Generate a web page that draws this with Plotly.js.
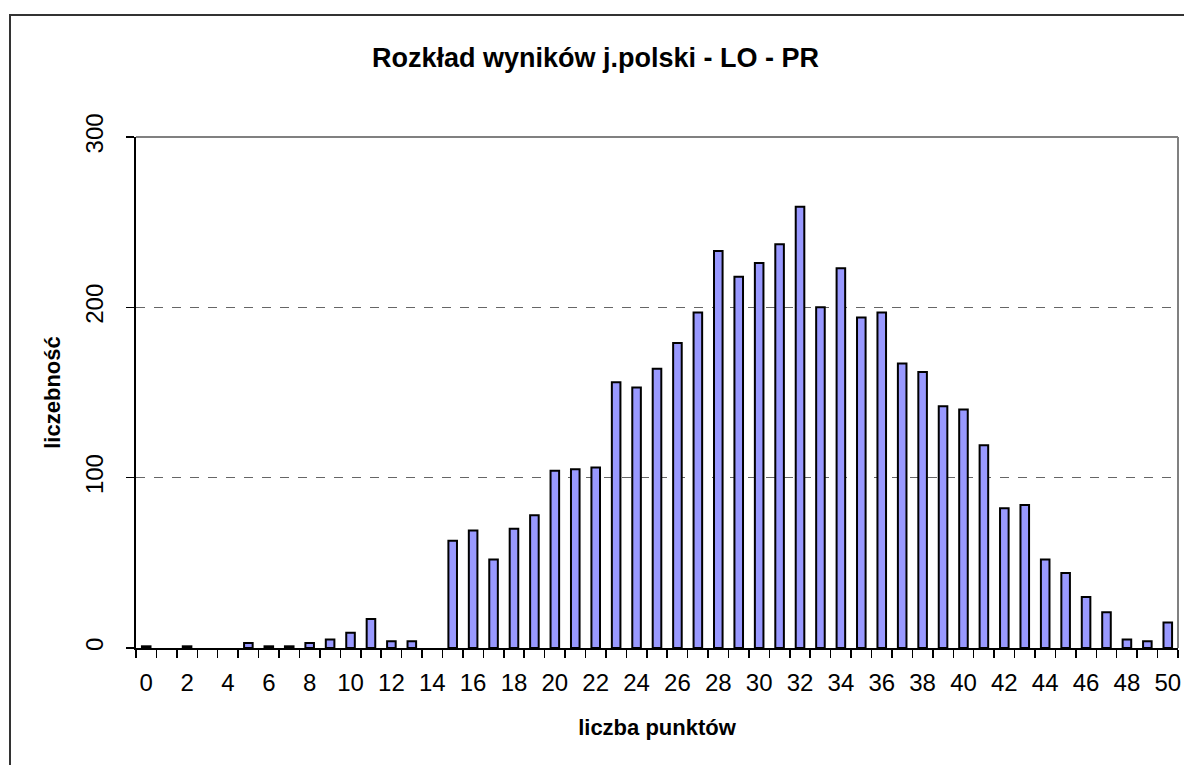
<!DOCTYPE html>
<html>
<head>
<meta charset="utf-8">
<script src="https://cdn.plot.ly/plotly-3.0.1.min.js"></script>
<style>
html,body{margin:0;padding:0;background:#fff;}
#chart{width:1184px;height:765px;}
</style>
</head>
<body>
<div id="chart"></div>
<script>
// liczba punktów (score) and liczebność (count)
const points = [0,1,2,3,4,5,6,7,8,9,10,11,12,13,14,15,16,17,18,19,20,21,22,23,24,25,26,27,28,29,30,31,32,33,34,35,36,37,38,39,40,41,42,43,44,45,46,47,48,49,50];
const counts = [1,0,1,0,0,3,1,1,3,5,9,17,4,4,0,63,69,52,70,78,104,105,106,156,153,164,179,197,233,218,226,237,259,200,223,194,197,167,162,142,140,119,82,84,52,44,30,21,5,4,15];
const xTickVals = [0,2,4,6,8,10,12,14,16,18,20,22,24,26,28,30,32,34,36,38,40,42,44,46,48,50];
const yTickVals = [0,100,200,300];
const titleText = 'Rozkład wyników j.polski - LO - PR';
const xTitle = 'liczba punktów';
const yTitle = 'liczebność';

const FONT = '"Liberation Sans", Arial, sans-serif';

const trace = {
  type: 'bar',
  x: points,
  // zero counts draw no bar (no outline) as in the original
  y: counts.map(v => (v === 0 ? null : v)),
  width: 0.42,
  marker: {color: '#9999FF', line: {color: '#000000', width: 2}},
  hoverinfo: 'x+y'
};

const layout = {
  width: 1184,
  height: 765,
  paper_bgcolor: '#ffffff',
  plot_bgcolor: '#ffffff',
  margin: {l: 136, r: 6, t: 137, b: 117},
  showlegend: false,
  font: {family: FONT, color: '#000000'},
  title: {
    text: '<b>' + titleText + '</b>',
    font: {family: FONT, size: 27, color: '#000000'},
    xref: 'container', x: 0.503, xanchor: 'center',
    yref: 'container', y: 1 - 58/765, yanchor: 'middle'
  },
  xaxis: {
    range: [-0.5, 50.5],
    tickmode: 'array',
    tickvals: xTickVals,
    ticktext: xTickVals.map(String),
    ticks: '',
    tickfont: {family: FONT, size: 24, color: '#000000'},
    ticklabelstandoff: 12,
    showline: true, linecolor: '#000000', linewidth: 2,
    showgrid: false, zeroline: false,
    minor: {tickmode: 'linear', tick0: -0.5, dtick: 1, ticks: 'outside', ticklen: 8, tickwidth: 1.5, tickcolor: '#000000', showgrid: false},
    title: {text: '<b>' + xTitle + '</b>', font: {family: FONT, size: 22, color: '#000000'}, standoff: 25},
    fixedrange: true
  },
  yaxis: {
    range: [0, 300],
    tickmode: 'array',
    tickvals: yTickVals,
    ticks: 'outside', ticklen: 8, tickwidth: 1.5, tickcolor: '#000000',
    tickangle: -90,
    tickfont: {family: FONT, size: 24, color: '#000000'},
    ticklabelstandoff: 13,
    showline: true, linecolor: '#000000', linewidth: 2,
    showgrid: true, gridcolor: '#666666', gridwidth: 1, griddash: 'dash',
    zeroline: false,
    title: {text: '<b>' + yTitle + '</b>', font: {family: FONT, size: 22, color: '#000000'}, standoff: 15},
    fixedrange: true
  },
  shapes: [
    // plot area border (top and right, gray)
    {type: 'line', xref: 'paper', yref: 'paper', x0: 0, x1: 1, y0: 1, y1: 1, line: {color: '#808080', width: 2}, layer: 'above'},
    {type: 'line', xref: 'paper', yref: 'paper', x0: 1, x1: 1, y0: 0, y1: 1, line: {color: '#808080', width: 2}, layer: 'above'},
    // outer chart border
    {type: 'rect', xref: 'paper', yref: 'paper',
     x0: (10 - 136) / 1042, x1: (1200 - 136) / 1042,
     y0: (648 - 800) / 511, y1: (648 - 15) / 511,
     line: {color: '#333333', width: 2}, fillcolor: 'rgba(0,0,0,0)', layer: 'below'}
  ]
};

Plotly.newPlot('chart', [trace], layout, {displayModeBar: false, staticPlot: true});
</script>
</body>
</html>
